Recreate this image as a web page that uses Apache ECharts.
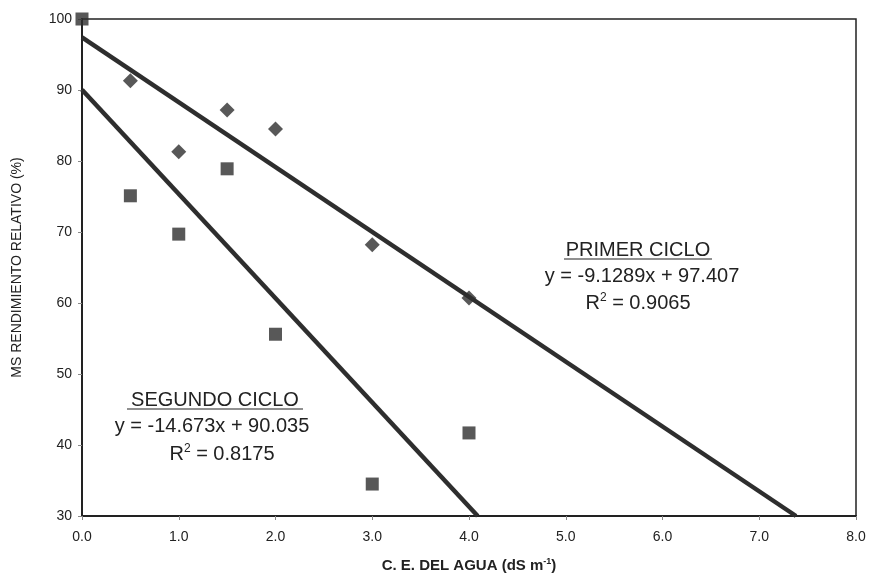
<!DOCTYPE html>
<html>
<head>
<meta charset="utf-8">
<script src="https://cdn.jsdelivr.net/npm/echarts@6/dist/echarts.min.js"></script>
<style>
  html, body { margin: 0; padding: 0; background: #fff; }
  #container { width: 870px; height: 575px; }
</style>
</head>
<body>
<div id="container"></div>
<script>
// measured points, primer ciclo (diamonds) and segundo ciclo (squares)
let primerPoints = [[0.5, 91.3], [1.0, 81.3], [1.5, 87.2], [2.0, 84.5], [3.0, 68.2], [4.0, 60.7]];
let segundoPoints = [[0.0, 100], [0.5, 75.1], [1.0, 69.7], [1.5, 78.9], [2.0, 55.6], [3.0, 34.5], [4.0, 41.7]];
// trend line ends
let primerTrend = [[0, 97.407], [7.38, 30]];
let segundoTrend = [[0, 90.035], [4.09, 30]];

let dom = document.getElementById("container");
let myChart = echarts.init(dom, null, { renderer: "canvas" });

let ink = "#222";
let font = "Liberation Sans";

let sup = { fontSize: 12, padding: [0, 0, 10, 0], fontFamily: font, color: ink };
function note(text, x, y) {
  return {
    type: "text",
    x: x,
    y: y,
    style: {
      text: text,
      font: "20px " + font,
      fill: ink,
      align: "center",
      verticalAlign: "middle",
      rich: { s: sup },
    },
  };
}

let option = {
  animation: false,
  grid: {
    left: 82, right: 14, top: 19, bottom: 59,
    outerBoundsMode: "none",
    show: true, borderColor: ink, borderWidth: 1.5,
  },
  xAxis: {
    type: "value",
    min: 0,
    max: 8,
    interval: 1,
    splitLine: { show: false },
    axisLine: { lineStyle: { color: ink, width: 2 } },
    axisTick: { show: true, length: 4, lineStyle: { color: "#888" } },
    axisLabel: { color: ink, fontSize: 14, fontFamily: font, margin: 14, formatter: (v) => v.toFixed(1) },
    name: "C. E. DEL AGUA (dS m{s|-1})",
    nameLocation: "middle",
    nameGap: 41,
    nameTextStyle: {
      color: ink, fontSize: 15, fontWeight: "bold", fontFamily: font,
      rich: { s: { fontSize: 9, fontWeight: "bold", padding: [0, 0, 8, 0], color: ink, fontFamily: font } },
    },
  },
  yAxis: {
    type: "value",
    min: 30,
    max: 100,
    interval: 10,
    splitLine: { show: false },
    axisLine: { lineStyle: { color: ink, width: 2 } },
    axisTick: { show: true, length: 4, lineStyle: { color: "#888" } },
    axisLabel: { color: ink, fontSize: 14, fontFamily: font, margin: 10 },
    name: "MS RENDIMIENTO RELATIVO (%)",
    nameLocation: "middle",
    nameGap: 58,
    nameTextStyle: { color: ink, fontSize: 14, fontFamily: font },
  },
  series: [
    {
      name: "primer trend",
      type: "line",
      data: primerTrend,
      symbol: "none",
      lineStyle: { color: "#2e2e2e", width: 4.5 },
      z: 2,
    },
    {
      name: "segundo trend",
      type: "line",
      data: segundoTrend,
      symbol: "none",
      lineStyle: { color: "#2e2e2e", width: 4.5 },
      z: 2,
    },
    {
      name: "primer",
      type: "scatter",
      data: primerPoints,
      symbol: "diamond",
      symbolSize: 15,
      itemStyle: { color: "#2e2e2e" },
      z: 3,
    },
    {
      name: "segundo",
      type: "scatter",
      data: segundoPoints,
      symbol: "rect",
      symbolSize: 13,
      itemStyle: { color: "#2e2e2e" },
      z: 3,
    },
  ],
  graphic: [
    note("PRIMER CICLO", 638, 250),
    { type: "line", shape: { x1: 564, y1: 259, x2: 712, y2: 259 }, style: { stroke: ink, lineWidth: 1.2 } },
    note("y = -9.1289x + 97.407", 642, 276),
    note("R{s|2} = 0.9065", 638, 303),
    note("SEGUNDO CICLO", 215, 400),
    { type: "line", shape: { x1: 127, y1: 409, x2: 303, y2: 409 }, style: { stroke: ink, lineWidth: 1.2 } },
    note("y = -14.673x + 90.035", 212, 426),
    note("R{s|2} = 0.8175", 222, 454),
  ],
};

if (option && typeof option === "object") {
  myChart.setOption(option);
}

window.addEventListener("resize", myChart.resize);
</script>
</body>
</html>
